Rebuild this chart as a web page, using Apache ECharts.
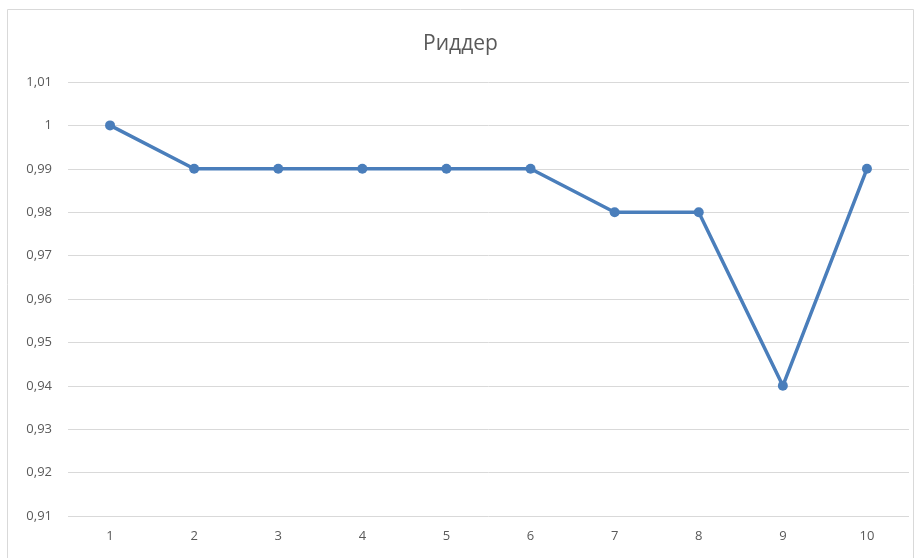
<!DOCTYPE html>
<html>
<head>
<meta charset="utf-8">
<script src="https://cdn.jsdelivr.net/npm/echarts@6/dist/echarts.min.js"></script>
<style>
  html, body { margin: 0; padding: 0; background: #fff; }
  #chart { width: 921px; height: 558px; }
</style>
</head>
<body>
<div id="chart"></div>
<script>
const categories = ['1', '2', '3', '4', '5', '6', '7', '8', '9', '10'];
const values = [1, 0.99, 0.99, 0.99, 0.99, 0.99, 0.98, 0.98, 0.94, 0.99];

const chart = echarts.init(document.getElementById('chart'));

const fmt = v => {
  const s = (Math.round(v * 100) / 100).toString();
  return s.replace('.', ',');
};

chart.setOption({
  animation: false,
  title: {
    text: 'Риддер',
    left: 'center',
    top: 29,
    textStyle: { fontFamily: 'Open Sans', fontSize: 21, fontWeight: 'normal', color: '#595959' }
  },
  graphic: [{
    type: 'rect',
    shape: { x: 7.5, y: 9.5, width: 906, height: 560 },
    style: { fill: 'none', stroke: '#d9d9d9', lineWidth: 1 },
    silent: true
  }],
  grid: { left: 68, right: 12, top: 82, bottom: 42 },
  xAxis: {
    type: 'category',
    data: categories,
    boundaryGap: true,
    axisLine: { show: false },
    axisTick: { show: false },
    axisLabel: { color: '#595959', fontSize: 13, fontFamily: 'Open Sans', margin: 14 }
  },
  yAxis: {
    type: 'value',
    min: 0.91,
    max: 1.01,
    interval: 0.01,
    axisLine: { show: false },
    axisTick: { show: false },
    splitLine: { lineStyle: { color: '#d9d9d9', width: 1 } },
    axisLabel: { color: '#595959', fontSize: 13, fontFamily: 'Open Sans', margin: 16, formatter: fmt }
  },
  series: [{
    type: 'line',
    data: values,
    symbol: 'circle',
    symbolSize: 10,
    lineStyle: { color: '#4a7ebb', width: 3.5 },
    itemStyle: { color: '#4a7ebb' }
  }]
});
</script>
</body>
</html>
